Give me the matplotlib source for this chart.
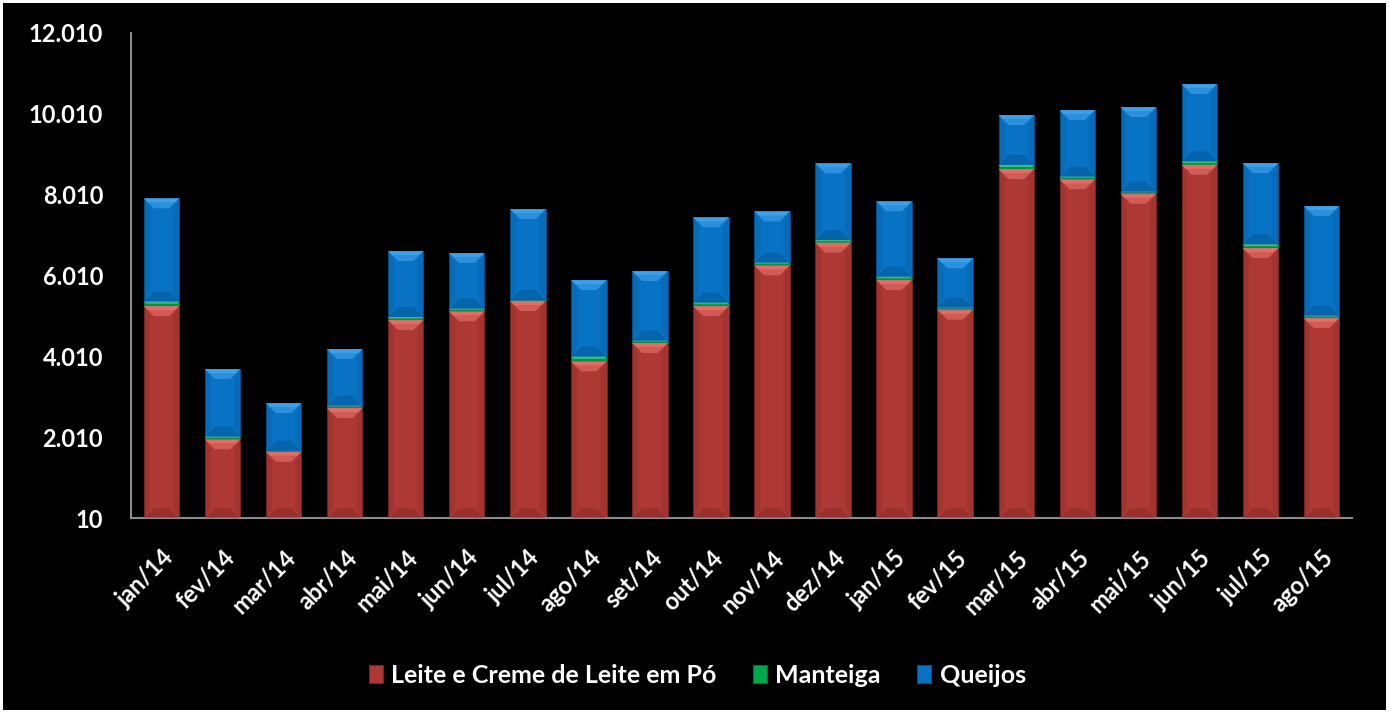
import matplotlib
matplotlib.use("Agg")
import matplotlib.pyplot as plt
from matplotlib.patches import Polygon, Patch
import numpy as np

months = ["jan/14", "fev/14", "mar/14", "abr/14", "mai/14", "jun/14", "jul/14",
          "ago/14", "set/14", "out/14", "nov/14", "dez/14", "jan/15", "fev/15",
          "mar/15", "abr/15", "mai/15", "jun/15", "jul/15", "ago/15"]
leite = [5255, 1957, 1650, 2732, 4909, 5124, 5379, 3887, 4340, 5255,
         6262, 6822, 5899, 5164, 8645, 8390, 8034, 8751, 6690, 4958]
manteiga = [110, 65, 20, 57, 74, 65, 25, 115, 57, 82,
            65, 65, 80, 50, 99, 65, 50, 82, 90, 57]
queijos = [2555, 1675, 1185, 1402, 1633, 1378, 2251, 1897, 1724, 2113,
           1271, 1899, 1867, 1222, 1237, 1650, 2095, 1915, 2013, 2715]
series_names = ["Leite e Creme de Leite em Pó", "Manteiga", "Queijos"]
yticks = [10, 2010, 4010, 6010, 8010, 10010, 12010]
ytick_labels = ["10", "2.010", "4.010", "6.010", "8.010", "10.010", "12.010"]

# base, light (top bevel), dark (bottom bevel / outline)
palettes = [
    ("#ad3834", "#f07a72", "#7a2421"),
    ("#00a84c", "#5fe08f", "#00733a"),
    ("#0872c4", "#4aaaf0", "#054f8c"),
]

plt.rcParams["font.family"] = ["Lato", "DejaVu Sans"]
plt.rcParams["font.weight"] = "bold"

W, H = 1389, 713
fig = plt.figure(figsize=(W / 100, H / 100), dpi=100, facecolor="black")
fig.patch.set_edgecolor("white")
fig.patch.set_linewidth(3)

left, right, top, bottom = 131, 1352, 33, 518
ax = fig.add_axes([left / W, 1 - bottom / H, (right - left) / W, (bottom - top) / H])
ax.set_facecolor("black")

x = np.arange(len(months))
width = 0.58
ax.set_xlim(-0.5, len(months) - 0.5)
ax.set_ylim(yticks[0], yticks[-1])

# data units per screen pixel, used to size the bevel facets
ux = (len(months)) / (right - left)
uy = (yticks[-1] - yticks[0]) / (bottom - top)


def bevel_segment(xc, base_y, h, pal):
    base, light, dark = pal
    ax.bar(xc, h, width, bottom=base_y, color=base, edgecolor=dark,
           linewidth=0.6, zorder=2)
    x0, x1 = xc - width / 2, xc + width / 2
    y0, y1 = base_y, base_y + h
    hp = h / uy
    d = min(10.0, hp * 0.45)
    dx, dy = d * ux, d * uy
    # top facet (lit)
    ax.add_patch(Polygon([(x0, y1), (x1, y1), (x1 - dx, y1 - dy), (x0 + dx, y1 - dy)],
                         closed=True, facecolor=light, edgecolor="none",
                         alpha=0.55, zorder=3))
    # brighter rim along the very top
    r = min(4.0, hp * 0.2)
    ax.add_patch(Polygon([(x0, y1), (x1, y1), (x1 - r * ux, y1 - r * uy), (x0 + r * ux, y1 - r * uy)],
                         closed=True, facecolor=light, edgecolor="none",
                         alpha=0.6, zorder=3))
    # bottom facet (shaded)
    ax.add_patch(Polygon([(x0, y0), (x1, y0), (x1 - dx, y0 + dy), (x0 + dx, y0 + dy)],
                         closed=True, facecolor=dark, edgecolor="none",
                         alpha=0.4, zorder=3))
    # side facets
    for xa, xb in ((x0, x0 + dx * 0.6), (x1, x1 - dx * 0.6)):
        ax.add_patch(Polygon([(xa, y0), (xa, y1), (xb, y1 - dy), (xb, y0 + dy)],
                             closed=True, facecolor=dark, edgecolor="none",
                             alpha=0.2, zorder=3))


stack_base = np.zeros(len(months))
for values, pal in zip([leite, manteiga, queijos], palettes):
    for i, v in enumerate(values):
        bevel_segment(x[i], stack_base[i], v, pal)
    stack_base += np.array(values)

ax.set_yticks(yticks)
ax.set_yticklabels(ytick_labels, color="white", fontsize=17, fontweight="bold")
ax.set_xticks(x)
ax.set_xticklabels(months, color="white", fontsize=17, fontweight="bold",
                   rotation=45, ha="right", rotation_mode="anchor")
ax.tick_params(axis="both", length=0)
ax.tick_params(axis="y", pad=20)
ax.tick_params(axis="x", pad=20)

for s in ("top", "right"):
    ax.spines[s].set_visible(False)
for s in ("left", "bottom"):
    ax.spines[s].set_color("#8c8c8c")
    ax.spines[s].set_linewidth(1.5)

handles = [Patch(facecolor=p[0], edgecolor=p[2], linewidth=0.8) for p in palettes]
leg = fig.legend(handles, series_names, loc="center", bbox_to_anchor=(0.502, 0.053),
                 ncol=3, frameon=False, fontsize=18, handlelength=0.55,
                 handleheight=0.75, handletextpad=0.35, columnspacing=1.45)
for t in leg.get_texts():
    t.set_color("white")
    t.set_fontweight("bold")

fig.savefig("out.png", dpi=100, facecolor=fig.get_facecolor())
